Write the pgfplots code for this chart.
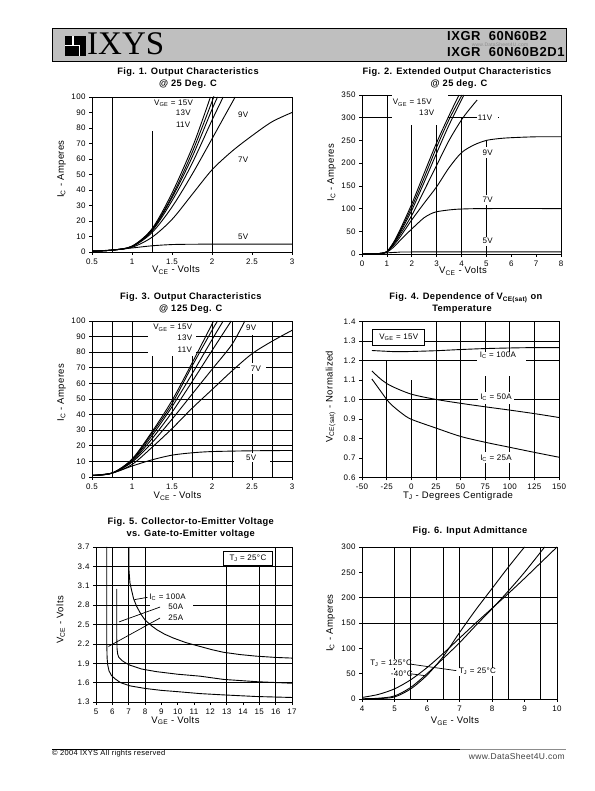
\documentclass[border=0pt]{standalone}
\usepackage{fontspec}
\setmainfont{Liberation Sans}[LetterSpace=4]
\newfontfamily\ixfont{Liberation Serif}
\usepackage{pgfplots}
\pgfplotsset{compat=1.18}
\newcommand\ttl{\fontsize{9.3bp}{11.6bp}\selectfont\bfseries}
\newcommand\lab{\fontsize{9.5bp}{11bp}\selectfont}
\newcommand\tk{\fontsize{8bp}{9bp}\selectfont}
\newcommand\an{\fontsize{8bp}{9bp}\selectfont}
\newcommand\s[1]{\textsubscript{#1}}
\pgfplotsset{ds/.style={scale only axis, anchor=south west,
  axis line style={line width=0.8bp}, tick align=outside,
  xtick pos=bottom, ytick pos=left, major tick length=3bp,
  every tick/.style={black, line width=0.6bp},
  tick label style={font=\tk},
  /pgf/number format/assume math mode=true, clip=true}}
\tikzset{gl/.style={black, line width=0.7bp},
  cv/.style={black, line width=0.9bp, smooth, tension=0.5},
  cs/.style={black, line width=0.9bp},
  wb/.style={fill=white, draw=none}}
\begin{document}
\begin{tikzpicture}
\useasboundingbox (0,0) rectangle (595bp,791bp);
% ---------- header ----------
\draw[fill=black!25, line width=0.8bp] (52bp,730bp) rectangle (566bp,763bp);
\fill[black] (65bp,735bp) rectangle (86bp,755bp);
\fill[white] (65bp,744.5bp) rectangle (80bp,746bp);
\fill[white] (72bp,746bp) rectangle (73.5bp,755bp);
\fill[white] (78.5bp,735bp) rectangle (80bp,744.5bp);
\node[anchor=base west, inner sep=0] at (87bp,736bp) {\ixfont\fontsize{33bp}{33bp}\selectfont IXYS};
\node[anchor=base west, inner sep=0] at (447bp,750.5bp) {\fontsize{13bp}{14bp}\selectfont\bfseries IXGR\ \ 60N60B2};
\node[anchor=base west, inner sep=0] at (447bp,734.5bp) {\fontsize{13bp}{14bp}\selectfont\bfseries IXGR\ \ 60N60B2D1};
\node[text=black!45, inner sep=0] at (500bp,746.5bp) {\fontsize{5bp}{5bp}\selectfont www.DataSheet4U.com};
% ---------- footer ----------
\draw[black, line width=0.9bp] (52bp,42bp) -- (460bp,42bp);
\draw[black!45, line width=0.9bp] (460bp,42bp) -- (566bp,42bp);
\node[anchor=west, inner sep=0] at (52bp,37bp) {\fontsize{7.5bp}{8bp}\selectfont © 2004 IXYS All rights reserved};
\node[anchor=east, inner sep=0, text=black!75] at (565bp,35bp) {\fontsize{8.5bp}{9bp}\selectfont www.DataSheet4U.com};
% ---------- titles ----------
\node[anchor=base] at (188bp,716bp) {\ttl Fig. 1. Output Characteristics};
\node[anchor=base] at (188bp,704.4bp) {\ttl @ 25 Deg. C};
\node[anchor=base] at (457bp,716bp) {\ttl Fig. 2. Extended Output Characteristics};
\node[anchor=base] at (459bp,704.4bp) {\ttl @ 25 deg. C};
\node[anchor=base] at (190.8bp,491bp) {\ttl Fig. 3. Output Characteristics};
\node[anchor=base] at (190.8bp,479.4bp) {\ttl @ 125 Deg. C};
\node[anchor=base] at (465.8bp,491bp) {\ttl Fig. 4. Dependence of V\s{CE(sat)} on};
\node[anchor=base] at (462bp,479.4bp) {\ttl Temperature};
\node[anchor=base] at (190.7bp,266bp) {\ttl Fig. 5. Collector-to-Emitter Voltage};
\node[anchor=base] at (190.7bp,254.4bp) {\ttl vs. Gate-to-Emitter voltage};
\node[anchor=base] at (470bp,257.7bp) {\ttl Fig. 6. Input Admittance};
% ---------- axis labels ----------
\node at (176bp,521bp) {\lab V\s{CE} - Volts};
\node[rotate=90] at (61.7bp,622bp) {\lab I\s{C} - Amperes};
\node at (463bp,520bp) {\lab V\s{CE} - Volts};
\node[rotate=90] at (331.7bp,618.5bp) {\lab I\s{C} - Amperes};
\node at (177.5bp,295bp) {\lab V\s{CE} - Volts};
\node[rotate=90] at (61.7bp,398.5bp) {\lab I\s{C} - Amperes};
\node at (458bp,295bp) {\lab T\s{J} - Degrees Centigrade};
\node[rotate=90] at (330.7bp,394.3bp) {\lab V\s{CE(sat)} - Normalized};
\node at (175.5bp,70.3bp) {\lab V\s{GE} - Volts};
\node[rotate=90] at (60.7bp,171bp) {\lab V\s{CE} - Volts};
\node at (455bp,70bp) {\lab V\s{GE} - Volts};
\node[rotate=90] at (330.7bp,168bp) {\lab I\s{C} - Amperes};
% ========== Fig 1 ==========
\begin{axis}[ds, at={(92bp,539bp)}, width=200bp, height=155bp,
  xmin=0.5, xmax=3, ymin=0, ymax=100,
  xtick={0.5,1,1.5,2,2.5,3}, ytick={0,10,...,100}]
\draw[gl] (0.75,0) -- (0.75,100);
\draw[gl] (1.25,0) -- (1.25,78);
\draw[gl] (2,0) -- (2,100);
\addplot[cv] coordinates {(0.5,0.5) (0.75,1.2) (1.0,3.8) (1.25,15) (1.5,38) (1.75,67) (1.9,88) (1.98,100)};
\addplot[cv] coordinates {(0.5,0.5) (0.75,1.2) (1.0,3.7) (1.25,14.5) (1.5,36) (1.75,64) (2.0,97) (2.02,100)};
\addplot[cv] coordinates {(0.5,0.5) (0.75,1.2) (1.0,3.6) (1.25,14) (1.5,35) (1.75,61) (2.0,92) (2.07,100)};
\addplot[cv] coordinates {(0.5,0.5) (0.75,1.2) (1.0,3.5) (1.25,13.5) (1.5,33) (1.75,57) (2.0,85) (2.14,100)};
\addplot[cv] coordinates {(0.5,0.5) (0.75,1.2) (1.0,3.4) (1.25,12.5) (1.5,29) (1.75,50) (2.0,73) (2.15,87) (2.29,100)};
\addplot[cv] coordinates {(0.5,0.5) (0.75,1.2) (1.0,3) (1.25,9.5) (1.5,21) (1.75,37) (2.0,53) (2.25,65) (2.5,75) (2.75,84) (3.0,90)};
\addplot[cv] coordinates {(0.5,0.5) (0.75,1.3) (1.0,2.6) (1.25,4) (1.5,4.8) (1.75,5) (2.2,5.1) (3.0,5.1)};
\node[font=\an] at (1.52,96) {V\s{GE} = 15V};
\node[font=\an] at (1.64,89.6) {13V};
\node[font=\an] at (1.64,82) {11V};
\node[font=\an] at (2.39,88.5) {9V};
\node[font=\an] at (2.39,59.5) {7V};
\node[font=\an] at (2.39,9.7) {5V};
\end{axis}
% ========== Fig 2 ==========
\begin{axis}[ds, at={(362bp,537bp)}, width=199bp, height=159bp,
  xmin=0, xmax=8, ymin=0, ymax=350,
  xtick={0,...,8}, ytick={0,50,...,350}]
\draw[gl] (1,0) -- (1,350);
\draw[gl] (2,0) -- (2,283);
\draw[gl] (3,0) -- (3,300);
\draw[gl] (4,0) -- (4,300);
\draw[gl] (5,0) -- (5,250);
\draw[gl] (0,300) -- (5.5,300);
\fill[wb] (1.22,283) rectangle (3.45,349);
\fill[wb] (4.62,287) rectangle (5.45,313);
\fill[wb] (4.75,212) rectangle (5.3,235);
\fill[wb] (4.75,108) rectangle (5.3,130);
\fill[wb] (4.75,18) rectangle (5.3,38);
\addplot[cv] coordinates {(0,0) (0.5,0.5) (0.8,1.5) (1.0,5) (1.25,24) (1.5,50) (2,110) (2.5,178) (3,245) (3.5,305) (3.9,350)};
\addplot[cv] coordinates {(0,0) (0.5,0.5) (0.8,1.5) (1.0,5) (1.25,23) (1.5,47) (2,103) (2.5,168) (3,235) (3.5,296) (4.02,350)};
\addplot[cv] coordinates {(0,0) (0.5,0.5) (0.8,1.5) (1.0,5) (1.25,22) (1.5,44) (2,96) (2.5,158) (3,222) (3.5,284) (4.1,350)};
\addplot[cv] coordinates {(0,0) (0.5,0.5) (0.8,1.5) (1.0,5) (1.25,20) (1.5,40) (2,85) (2.5,140) (3,195) (3.5,250) (4.06,300) (4.63,339)};
\addplot[cv] coordinates {(0,0) (0.5,0.5) (0.8,1.5) (1,5) (1.25,18) (1.5,35) (1.75,55) (2,75) (2.5,112) (3,148) (3.5,190) (4,223) (4.5,240) (5,250) (5.5,254) (6,256) (7,258) (8,258)};
\addplot[cv] coordinates {(0,0) (0.5,0.5) (0.8,1.5) (1,4) (1.25,14) (1.5,28) (1.75,42) (2,55) (2.25,68) (2.5,80) (2.75,88) (3,93) (3.5,97) (4,99) (5,100) (8,100)};
\addplot[cv] coordinates {(0,0) (0.5,0.5) (1,2.5) (1.5,4) (2,4.5) (8,4.5)};
\node[font=\an] at (2.02,333) {V\s{GE} = 15V};
\node[font=\an] at (2.6,310) {13V};
\node[font=\an] at (4.95,299) {11V};
\node[font=\an] at (5.05,223) {9V};
\node[font=\an] at (5.05,119) {7V};
\node[font=\an] at (5.05,28) {5V};
\end{axis}
% ========== Fig 3 ==========
\begin{axis}[ds, at={(92bp,314bp)}, width=200bp, height=156bp,
  xmin=0.5, xmax=3, ymin=0, ymax=100,
  xtick={0.5,1,1.5,2,2.5,3}, ytick={0,10,...,100}]
\pgfplotsinvokeforeach{0.75,1,1.25,1.5,1.75,2,2.25,2.5,2.75}{\draw[gl] (#1,0) -- (#1,100);}
\pgfplotsinvokeforeach{10,20,30,40,50,60,70,80,90}{\draw[gl] (0.5,#1) -- (3,#1);}
\fill[wb] (1.2,77.5) rectangle (1.8,99.6);
\fill[wb] (2.3,91.3) rectangle (2.63,99.6);
\fill[wb] (2.35,66.3) rectangle (2.68,73.3);
\fill[wb] (2.28,9.3) rectangle (2.72,15.3);
\addplot[cv] coordinates {(0.5,1) (0.75,2.5) (1.0,11.5) (1.25,29) (1.5,49) (1.75,73) (2.02,100)};
\addplot[cv] coordinates {(0.5,1) (0.75,2.5) (1.0,11) (1.25,28) (1.5,47) (1.75,71) (2.0,94) (2.07,100)};
\addplot[cv] coordinates {(0.5,1) (0.75,2.5) (1.0,10.5) (1.25,26.5) (1.5,45) (1.75,66) (2.0,88) (2.14,100)};
\addplot[cv] coordinates {(0.5,1) (0.75,2.5) (1.0,10) (1.25,24.5) (1.5,41.5) (1.75,61) (2.0,81) (2.24,100)};
\addplot[cv] coordinates {(0.5,1) (0.75,2.5) (1.0,9.5) (1.25,22) (1.5,37) (1.75,53) (2.0,69) (2.25,85) (2.41,100)};
\addplot[cv] coordinates {(0.5,1) (0.75,2.5) (1.0,8) (1.25,19) (1.5,31) (1.75,44) (2.0,56) (2.25,68) (2.5,79) (2.75,87) (3.0,94)};
\addplot[cv] coordinates {(0.5,1) (0.75,2.5) (1.0,7) (1.25,11) (1.5,14) (1.75,15.5) (2.0,16.3) (2.5,16.8) (3.0,17)};
\node[font=\an] at (1.51,95.7) {V\s{GE} = 15V};
\node[font=\an] at (1.66,89.3) {13V};
\node[font=\an] at (1.66,81.8) {11V};
\node[font=\an] at (2.49,95.7) {9V};
\node[font=\an] at (2.55,69.6) {7V};
\node[font=\an] at (2.49,12.2) {5V};
\end{axis}
% ========== Fig 4 ==========
\begin{axis}[ds, at={(362bp,313.7bp)}, width=197bp, height=155.8bp,
  xmin=-50, xmax=150, ymin=0.6, ymax=1.4,
  xtick={-50,-25,0,25,50,75,100,125,150},
  ytick={0.6,0.7,0.8,0.9,1.0,1.1,1.2,1.3,1.4},
  yticklabel style={/pgf/number format/fixed, /pgf/number format/fixed zerofill, /pgf/number format/precision=1}]
\draw[gl] (-25,0.6) -- (-25,1.2);
\draw[gl] (0,0.6) -- (0,1.1);
\pgfplotsinvokeforeach{25,50,75,100,125}{\draw[gl] (#1,0.6) -- (#1,1.4);}
\pgfplotsinvokeforeach{1.0,1.2,1.3}{\draw[gl] (-50,#1) -- (150,#1);}
\fill[wb] (67,1.12) rectangle (116,1.245);
\fill[wb] (68,0.975) rectangle (104,1.04);
\fill[wb] (68,0.675) rectangle (104,0.728);
\draw[fill=white, line width=0.8bp] (-39,1.277) rectangle (13.6,1.357);
\node[font=\an] at (-12.7,1.317) {V\s{GE} = 15V};
\addplot[cv] coordinates {(-40,1.251) (-25,1.247) (-15,1.245) (0,1.246) (25,1.25) (50,1.256) (75,1.261) (100,1.264) (125,1.266) (150,1.266)};
\addplot[cv] coordinates {(-40,1.146) (-30,1.10) (-20,1.068) (0,1.027) (25,1.0) (50,0.98) (75,0.962) (100,0.945) (125,0.927) (150,0.907)};
\addplot[cv] coordinates {(-40,1.105) (-30,1.035) (-25,1.0) (-20,0.972) (-10,0.93) (0,0.898) (25,0.853) (50,0.81) (75,0.78) (100,0.754) (125,0.728) (150,0.703)};
\node[font=\an] at (88,1.225) {I\s{C} = 100A};
\node[font=\an] at (86,1.009) {I\s{C} = 50A};
\node[font=\an] at (86,0.70) {I\s{C} = 25A};
\end{axis}
% ========== Fig 5 ==========
\begin{axis}[ds, at={(96bp,89bp)}, width=196bp, height=155bp,
  xmin=5, xmax=17, ymin=1.3, ymax=3.7,
  xtick={5,...,17}, ytick={1.3,1.6,1.9,2.2,2.5,2.8,3.1,3.4,3.7},
  yticklabel style={/pgf/number format/fixed, /pgf/number format/fixed zerofill, /pgf/number format/precision=1}]
\pgfplotsinvokeforeach{6,7,8,16}{\draw[gl] (#1,1.3) -- (#1,3.7);}
\pgfplotsinvokeforeach{13,15}{\draw[gl] (#1,1.3) -- (#1,3.42);}
\pgfplotsinvokeforeach{1.6,1.9,2.2,2.5,2.8,3.1,3.4}{\draw[gl] (5,#1) -- (17,#1);}
\fill[wb] (8.3,2.86) rectangle (10.95,2.99);
\fill[wb] (8.3,2.72) rectangle (10.95,2.85);
\fill[wb] (8.9,2.55) rectangle (10.95,2.66);
\draw[fill=white, line width=0.8bp] (12.8,3.42) rectangle (15.8,3.63);
\node[font=\an] at (14.3,3.525) {T\s{J} = 25°C};
\addplot[cs] coordinates {(7.02,3.7) (7.02,3.34) (7.08,3.14) (7.18,3.03) (7.3,2.9) (7.49,2.78) (7.75,2.66) (8.0,2.57) (8.4,2.48) (8.72,2.42) (9.2,2.35) (9.74,2.29) (10.5,2.22) (11.37,2.16) (12.1,2.11) (12.8,2.07) (13.8,2.035) (14.8,2.01) (16,1.99) (17,1.98)};
\addplot[cs] coordinates {(6.27,3.05) (6.27,2.3) (6.29,2.12) (6.33,2.04) (6.4,1.99) (6.6,1.94) (6.85,1.9) (7.08,1.87) (7.8,1.81) (8.7,1.77) (10,1.73) (11.37,1.70) (12.8,1.65) (14.8,1.615) (17,1.59)};
\addplot[cs] coordinates {(5.66,3.7) (5.66,2.2) (5.68,1.98) (5.72,1.87) (5.8,1.78) (5.95,1.71) (6.16,1.66) (6.5,1.60) (7.08,1.55) (8,1.51) (9,1.48) (10,1.46) (11.37,1.43) (12.8,1.41) (14.8,1.385) (17,1.37)};
\draw[black, line width=0.7bp] (7.35,2.885) -- (8.15,2.92);
\draw[black, line width=0.7bp] (6.41,2.54) -- (8.92,2.77);
\draw[black, line width=0.7bp] (5.76,2.16) -- (8.92,2.6);
\node[font=\an, anchor=west, inner sep=1bp] at (8.2,2.925) {I\s{C} = 100A};
\node[font=\an, anchor=west, inner sep=1bp] at (9.35,2.78) {50A};
\node[font=\an, anchor=west, inner sep=1bp] at (9.35,2.61) {25A};
\end{axis}
% ========== Fig 6 ==========
\begin{axis}[ds, at={(362bp,92bp)}, width=195bp, height=152bp,
  xmin=4, xmax=10, ymin=0, ymax=300,
  xtick={4,...,10}, ytick={0,50,...,300}]
\pgfplotsinvokeforeach{5,5.5,6.5,7,8,8.5,9.5}{\draw[gl] (#1,0) -- (#1,300);}
\pgfplotsinvokeforeach{150,200}{\draw[gl] (4,#1) -- (10,#1);}
\fill[wb] (4.2,62) rectangle (5.45,79);
\fill[wb] (4.8,42) rectangle (5.45,57);
\fill[wb] (6.9,46) rectangle (8.1,62);
\addplot[cv] coordinates {(4,3) (4.5,9) (5,20) (5.5,38) (6,62) (6.5,90) (7,120) (7.5,150) (8,179) (8.5,208) (9,238) (9.5,269) (10,300)};
\addplot[cv] coordinates {(4,0.5) (4.5,1.5) (5,6) (5.5,23) (6,50) (6.5,80) (7,111) (7.5,145) (8,178) (8.5,213) (9,250) (9.62,300)};
\addplot[cv] coordinates {(4,0) (4.5,0.8) (5,4) (5.5,20) (6,47) (6.5,84) (7,131) (7.5,176) (8,218) (8.5,260) (9,300)};
\draw[black, line width=0.7bp] (5.47,69) -- (6.9,56);
\draw[black, line width=0.7bp] (5.47,50) -- (5.95,46);
\node[font=\an, anchor=west, inner sep=1bp] at (4.22,70.5) {T\s{J} = 125°C};
\node[font=\an, anchor=west, inner sep=1bp] at (4.85,50) {-40°C};
\node[font=\an, anchor=west, inner sep=1bp] at (6.95,54) {T\s{J} = 25°C};
\end{axis}
\end{tikzpicture}
\end{document}
